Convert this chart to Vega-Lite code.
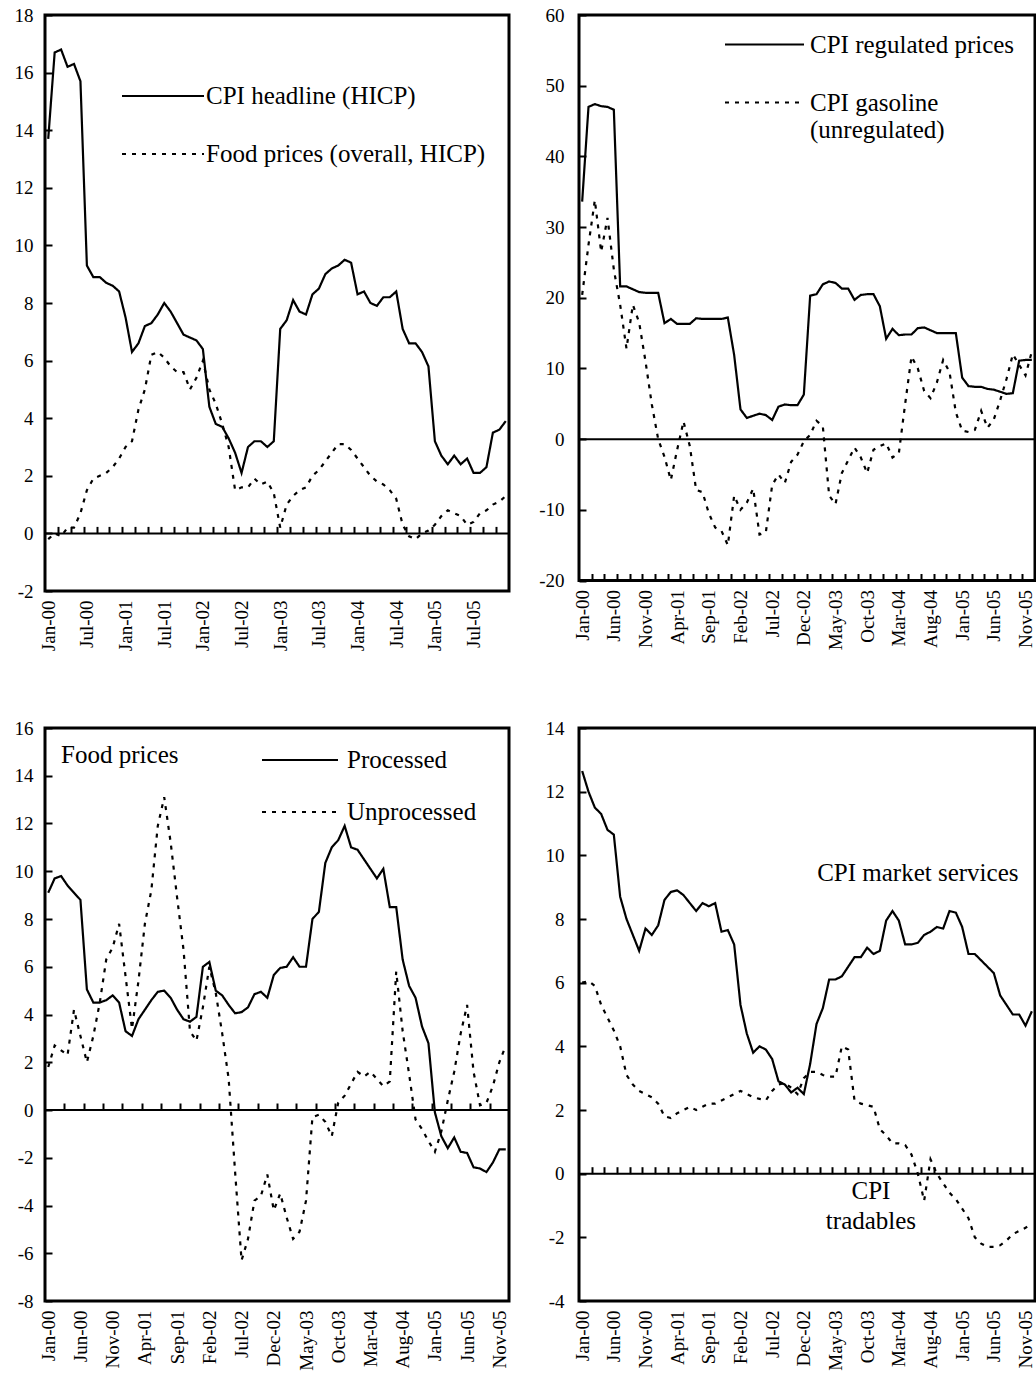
{
"$schema": "https://vega.github.io/schema/vega-lite/v6.json",
"background": "white",
"padding": {"left": 12, "top": 2, "right": 0, "bottom": 0},
"config": {
 "font": "Liberation Serif",
 "view": {"stroke": "black", "strokeWidth": 3},
 "axis": {"labelFont": "Liberation Serif", "labelFontSize": 19, "labelColor": "black", "tickColor": "black", "domain": false, "grid": false},
 "legend": {"labelFont": "Liberation Serif", "labelFontSize": 25, "labelColor": "black", "symbolType": "stroke", "symbolStrokeWidth": 2, "symbolStrokeColor": "black", "padding": 0, "labelLimit": 0},
 "text": {"font": "Liberation Serif", "fontSize": 25, "color": "black"}
},
"datasets": {
 "p1": [
{"m":0,"CPI headline (HICP)":13.7,"Food prices (overall, HICP)":-0.2},
{"m":1,"CPI headline (HICP)":16.7,"Food prices (overall, HICP)":0.0},
{"m":2,"CPI headline (HICP)":16.8,"Food prices (overall, HICP)":-0.1},
{"m":3,"CPI headline (HICP)":16.2,"Food prices (overall, HICP)":0.2},
{"m":4,"CPI headline (HICP)":16.3,"Food prices (overall, HICP)":0.2},
{"m":5,"CPI headline (HICP)":15.7,"Food prices (overall, HICP)":0.7},
{"m":6,"CPI headline (HICP)":9.3,"Food prices (overall, HICP)":1.5},
{"m":7,"CPI headline (HICP)":8.9,"Food prices (overall, HICP)":1.9},
{"m":8,"CPI headline (HICP)":8.9,"Food prices (overall, HICP)":2.0},
{"m":9,"CPI headline (HICP)":8.7,"Food prices (overall, HICP)":2.1},
{"m":10,"CPI headline (HICP)":8.6,"Food prices (overall, HICP)":2.3},
{"m":11,"CPI headline (HICP)":8.4,"Food prices (overall, HICP)":2.6},
{"m":12,"CPI headline (HICP)":7.5,"Food prices (overall, HICP)":3.0},
{"m":13,"CPI headline (HICP)":6.3,"Food prices (overall, HICP)":3.2},
{"m":14,"CPI headline (HICP)":6.6,"Food prices (overall, HICP)":4.3},
{"m":15,"CPI headline (HICP)":7.2,"Food prices (overall, HICP)":5.0},
{"m":16,"CPI headline (HICP)":7.3,"Food prices (overall, HICP)":6.2},
{"m":17,"CPI headline (HICP)":7.6,"Food prices (overall, HICP)":6.3},
{"m":18,"CPI headline (HICP)":8.0,"Food prices (overall, HICP)":6.1},
{"m":19,"CPI headline (HICP)":7.7,"Food prices (overall, HICP)":5.8},
{"m":20,"CPI headline (HICP)":7.3,"Food prices (overall, HICP)":5.6},
{"m":21,"CPI headline (HICP)":6.9,"Food prices (overall, HICP)":5.6},
{"m":22,"CPI headline (HICP)":6.8,"Food prices (overall, HICP)":5.0},
{"m":23,"CPI headline (HICP)":6.7,"Food prices (overall, HICP)":5.4},
{"m":24,"CPI headline (HICP)":6.4,"Food prices (overall, HICP)":6.0},
{"m":25,"CPI headline (HICP)":4.4,"Food prices (overall, HICP)":5.0},
{"m":26,"CPI headline (HICP)":3.8,"Food prices (overall, HICP)":4.5},
{"m":27,"CPI headline (HICP)":3.7,"Food prices (overall, HICP)":3.8},
{"m":28,"CPI headline (HICP)":3.3,"Food prices (overall, HICP)":3.0},
{"m":29,"CPI headline (HICP)":2.8,"Food prices (overall, HICP)":1.5},
{"m":30,"CPI headline (HICP)":2.1,"Food prices (overall, HICP)":1.6},
{"m":31,"CPI headline (HICP)":3.0,"Food prices (overall, HICP)":1.6},
{"m":32,"CPI headline (HICP)":3.2,"Food prices (overall, HICP)":1.9},
{"m":33,"CPI headline (HICP)":3.2,"Food prices (overall, HICP)":1.7},
{"m":34,"CPI headline (HICP)":3.0,"Food prices (overall, HICP)":1.8},
{"m":35,"CPI headline (HICP)":3.2,"Food prices (overall, HICP)":1.4},
{"m":36,"CPI headline (HICP)":7.1,"Food prices (overall, HICP)":0.2},
{"m":37,"CPI headline (HICP)":7.4,"Food prices (overall, HICP)":1.0},
{"m":38,"CPI headline (HICP)":8.1,"Food prices (overall, HICP)":1.3},
{"m":39,"CPI headline (HICP)":7.7,"Food prices (overall, HICP)":1.5},
{"m":40,"CPI headline (HICP)":7.6,"Food prices (overall, HICP)":1.6},
{"m":41,"CPI headline (HICP)":8.3,"Food prices (overall, HICP)":2.0},
{"m":42,"CPI headline (HICP)":8.5,"Food prices (overall, HICP)":2.2},
{"m":43,"CPI headline (HICP)":9.0,"Food prices (overall, HICP)":2.5},
{"m":44,"CPI headline (HICP)":9.2,"Food prices (overall, HICP)":2.8},
{"m":45,"CPI headline (HICP)":9.3,"Food prices (overall, HICP)":3.1},
{"m":46,"CPI headline (HICP)":9.5,"Food prices (overall, HICP)":3.1},
{"m":47,"CPI headline (HICP)":9.4,"Food prices (overall, HICP)":2.9},
{"m":48,"CPI headline (HICP)":8.3,"Food prices (overall, HICP)":2.6},
{"m":49,"CPI headline (HICP)":8.4,"Food prices (overall, HICP)":2.3},
{"m":50,"CPI headline (HICP)":8.0,"Food prices (overall, HICP)":2.0},
{"m":51,"CPI headline (HICP)":7.9,"Food prices (overall, HICP)":1.8},
{"m":52,"CPI headline (HICP)":8.2,"Food prices (overall, HICP)":1.7},
{"m":53,"CPI headline (HICP)":8.2,"Food prices (overall, HICP)":1.5},
{"m":54,"CPI headline (HICP)":8.4,"Food prices (overall, HICP)":1.2},
{"m":55,"CPI headline (HICP)":7.1,"Food prices (overall, HICP)":0.3},
{"m":56,"CPI headline (HICP)":6.6,"Food prices (overall, HICP)":-0.1},
{"m":57,"CPI headline (HICP)":6.6,"Food prices (overall, HICP)":-0.2},
{"m":58,"CPI headline (HICP)":6.3,"Food prices (overall, HICP)":0.0},
{"m":59,"CPI headline (HICP)":5.8,"Food prices (overall, HICP)":0.1},
{"m":60,"CPI headline (HICP)":3.2,"Food prices (overall, HICP)":0.3},
{"m":61,"CPI headline (HICP)":2.7,"Food prices (overall, HICP)":0.6},
{"m":62,"CPI headline (HICP)":2.4,"Food prices (overall, HICP)":0.8},
{"m":63,"CPI headline (HICP)":2.7,"Food prices (overall, HICP)":0.7},
{"m":64,"CPI headline (HICP)":2.4,"Food prices (overall, HICP)":0.6},
{"m":65,"CPI headline (HICP)":2.6,"Food prices (overall, HICP)":0.3},
{"m":66,"CPI headline (HICP)":2.1,"Food prices (overall, HICP)":0.4},
{"m":67,"CPI headline (HICP)":2.1,"Food prices (overall, HICP)":0.7},
{"m":68,"CPI headline (HICP)":2.3,"Food prices (overall, HICP)":0.8},
{"m":69,"CPI headline (HICP)":3.5,"Food prices (overall, HICP)":1.0},
{"m":70,"CPI headline (HICP)":3.6,"Food prices (overall, HICP)":1.1},
{"m":71,"CPI headline (HICP)":3.9,"Food prices (overall, HICP)":1.3}
 ],
 "p2": [
{"m":0,"CPI regulated prices":33.6,"CPI gasoline (unregulated)":20.4},
{"m":1,"CPI regulated prices":47.0,"CPI gasoline (unregulated)":27.5},
{"m":2,"CPI regulated prices":47.4,"CPI gasoline (unregulated)":33.8},
{"m":3,"CPI regulated prices":47.1,"CPI gasoline (unregulated)":26.5},
{"m":4,"CPI regulated prices":47.0,"CPI gasoline (unregulated)":31.3},
{"m":5,"CPI regulated prices":46.6,"CPI gasoline (unregulated)":24.0},
{"m":6,"CPI regulated prices":21.6,"CPI gasoline (unregulated)":19.0},
{"m":7,"CPI regulated prices":21.6,"CPI gasoline (unregulated)":12.8},
{"m":8,"CPI regulated prices":21.2,"CPI gasoline (unregulated)":19.0},
{"m":9,"CPI regulated prices":20.8,"CPI gasoline (unregulated)":16.5},
{"m":10,"CPI regulated prices":20.7,"CPI gasoline (unregulated)":11.0},
{"m":11,"CPI regulated prices":20.7,"CPI gasoline (unregulated)":4.9},
{"m":12,"CPI regulated prices":20.7,"CPI gasoline (unregulated)":0.0},
{"m":13,"CPI regulated prices":16.4,"CPI gasoline (unregulated)":-2.5},
{"m":14,"CPI regulated prices":17.0,"CPI gasoline (unregulated)":-5.8},
{"m":15,"CPI regulated prices":16.3,"CPI gasoline (unregulated)":-1.5},
{"m":16,"CPI regulated prices":16.3,"CPI gasoline (unregulated)":2.5},
{"m":17,"CPI regulated prices":16.3,"CPI gasoline (unregulated)":-1.0},
{"m":18,"CPI regulated prices":17.1,"CPI gasoline (unregulated)":-7.2},
{"m":19,"CPI regulated prices":17.0,"CPI gasoline (unregulated)":-7.5},
{"m":20,"CPI regulated prices":17.0,"CPI gasoline (unregulated)":-10.5},
{"m":21,"CPI regulated prices":17.0,"CPI gasoline (unregulated)":-12.5},
{"m":22,"CPI regulated prices":17.0,"CPI gasoline (unregulated)":-13.0},
{"m":23,"CPI regulated prices":17.2,"CPI gasoline (unregulated)":-15.0},
{"m":24,"CPI regulated prices":11.9,"CPI gasoline (unregulated)":-8.0},
{"m":25,"CPI regulated prices":4.2,"CPI gasoline (unregulated)":-10.0},
{"m":26,"CPI regulated prices":3.0,"CPI gasoline (unregulated)":-9.0},
{"m":27,"CPI regulated prices":3.3,"CPI gasoline (unregulated)":-7.0},
{"m":28,"CPI regulated prices":3.6,"CPI gasoline (unregulated)":-13.5},
{"m":29,"CPI regulated prices":3.4,"CPI gasoline (unregulated)":-13.2},
{"m":30,"CPI regulated prices":2.7,"CPI gasoline (unregulated)":-6.5},
{"m":31,"CPI regulated prices":4.6,"CPI gasoline (unregulated)":-5.0},
{"m":32,"CPI regulated prices":4.9,"CPI gasoline (unregulated)":-6.2},
{"m":33,"CPI regulated prices":4.8,"CPI gasoline (unregulated)":-3.2},
{"m":34,"CPI regulated prices":4.8,"CPI gasoline (unregulated)":-2.2},
{"m":35,"CPI regulated prices":6.3,"CPI gasoline (unregulated)":-0.3},
{"m":36,"CPI regulated prices":20.3,"CPI gasoline (unregulated)":0.6},
{"m":37,"CPI regulated prices":20.5,"CPI gasoline (unregulated)":2.6},
{"m":38,"CPI regulated prices":21.9,"CPI gasoline (unregulated)":1.8},
{"m":39,"CPI regulated prices":22.3,"CPI gasoline (unregulated)":-8.0},
{"m":40,"CPI regulated prices":22.1,"CPI gasoline (unregulated)":-9.2},
{"m":41,"CPI regulated prices":21.3,"CPI gasoline (unregulated)":-4.8},
{"m":42,"CPI regulated prices":21.3,"CPI gasoline (unregulated)":-3.0},
{"m":43,"CPI regulated prices":19.7,"CPI gasoline (unregulated)":-1.2},
{"m":44,"CPI regulated prices":20.4,"CPI gasoline (unregulated)":-2.6},
{"m":45,"CPI regulated prices":20.5,"CPI gasoline (unregulated)":-4.8},
{"m":46,"CPI regulated prices":20.5,"CPI gasoline (unregulated)":-1.5},
{"m":47,"CPI regulated prices":18.8,"CPI gasoline (unregulated)":-1.0},
{"m":48,"CPI regulated prices":14.2,"CPI gasoline (unregulated)":-0.6},
{"m":49,"CPI regulated prices":15.6,"CPI gasoline (unregulated)":-2.6},
{"m":50,"CPI regulated prices":14.7,"CPI gasoline (unregulated)":-2.0},
{"m":51,"CPI regulated prices":14.8,"CPI gasoline (unregulated)":5.0},
{"m":52,"CPI regulated prices":14.8,"CPI gasoline (unregulated)":11.7},
{"m":53,"CPI regulated prices":15.7,"CPI gasoline (unregulated)":10.0},
{"m":54,"CPI regulated prices":15.8,"CPI gasoline (unregulated)":6.8},
{"m":55,"CPI regulated prices":15.4,"CPI gasoline (unregulated)":5.8},
{"m":56,"CPI regulated prices":15.0,"CPI gasoline (unregulated)":8.0},
{"m":57,"CPI regulated prices":15.0,"CPI gasoline (unregulated)":11.2},
{"m":58,"CPI regulated prices":15.0,"CPI gasoline (unregulated)":9.5},
{"m":59,"CPI regulated prices":15.0,"CPI gasoline (unregulated)":3.8},
{"m":60,"CPI regulated prices":8.7,"CPI gasoline (unregulated)":1.2},
{"m":61,"CPI regulated prices":7.5,"CPI gasoline (unregulated)":1.0},
{"m":62,"CPI regulated prices":7.4,"CPI gasoline (unregulated)":1.3},
{"m":63,"CPI regulated prices":7.4,"CPI gasoline (unregulated)":4.0},
{"m":64,"CPI regulated prices":7.1,"CPI gasoline (unregulated)":1.6},
{"m":65,"CPI regulated prices":7.0,"CPI gasoline (unregulated)":2.8},
{"m":66,"CPI regulated prices":6.7,"CPI gasoline (unregulated)":5.5},
{"m":67,"CPI regulated prices":6.4,"CPI gasoline (unregulated)":8.5},
{"m":68,"CPI regulated prices":6.5,"CPI gasoline (unregulated)":12.0},
{"m":69,"CPI regulated prices":11.1,"CPI gasoline (unregulated)":10.5},
{"m":70,"CPI regulated prices":11.2,"CPI gasoline (unregulated)":9.0},
{"m":71,"CPI regulated prices":11.2,"CPI gasoline (unregulated)":12.4}
 ],
 "p3": [
{"m":0,"Processed":9.1,"Unprocessed":1.8},
{"m":1,"Processed":9.7,"Unprocessed":2.7},
{"m":2,"Processed":9.8,"Unprocessed":2.5},
{"m":3,"Processed":9.4,"Unprocessed":2.3},
{"m":4,"Processed":9.1,"Unprocessed":4.2},
{"m":5,"Processed":8.8,"Unprocessed":3.1},
{"m":6,"Processed":5.05,"Unprocessed":2.0},
{"m":7,"Processed":4.5,"Unprocessed":3.1},
{"m":8,"Processed":4.5,"Unprocessed":4.5},
{"m":9,"Processed":4.6,"Unprocessed":6.3},
{"m":10,"Processed":4.8,"Unprocessed":6.8},
{"m":11,"Processed":4.5,"Unprocessed":7.8},
{"m":12,"Processed":3.3,"Unprocessed":5.6},
{"m":13,"Processed":3.1,"Unprocessed":3.4},
{"m":14,"Processed":3.8,"Unprocessed":5.4},
{"m":15,"Processed":4.2,"Unprocessed":7.8},
{"m":16,"Processed":4.6,"Unprocessed":9.2},
{"m":17,"Processed":4.95,"Unprocessed":11.9},
{"m":18,"Processed":5.0,"Unprocessed":13.1},
{"m":19,"Processed":4.7,"Unprocessed":11.2},
{"m":20,"Processed":4.2,"Unprocessed":8.9},
{"m":21,"Processed":3.8,"Unprocessed":6.7},
{"m":22,"Processed":3.7,"Unprocessed":3.3},
{"m":23,"Processed":3.9,"Unprocessed":2.9},
{"m":24,"Processed":6.0,"Unprocessed":4.3},
{"m":25,"Processed":6.2,"Unprocessed":6.0},
{"m":26,"Processed":5.0,"Unprocessed":4.9},
{"m":27,"Processed":4.8,"Unprocessed":3.2},
{"m":28,"Processed":4.4,"Unprocessed":1.3},
{"m":29,"Processed":4.05,"Unprocessed":-2.6},
{"m":30,"Processed":4.1,"Unprocessed":-6.3},
{"m":31,"Processed":4.3,"Unprocessed":-5.4},
{"m":32,"Processed":4.85,"Unprocessed":-3.8},
{"m":33,"Processed":4.95,"Unprocessed":-3.6},
{"m":34,"Processed":4.7,"Unprocessed":-2.7},
{"m":35,"Processed":5.65,"Unprocessed":-4.2},
{"m":36,"Processed":5.95,"Unprocessed":-3.5},
{"m":37,"Processed":6.0,"Unprocessed":-4.5},
{"m":38,"Processed":6.4,"Unprocessed":-5.4},
{"m":39,"Processed":6.0,"Unprocessed":-5.1},
{"m":40,"Processed":6.0,"Unprocessed":-3.8},
{"m":41,"Processed":8.0,"Unprocessed":-0.3},
{"m":42,"Processed":8.3,"Unprocessed":-0.2},
{"m":43,"Processed":10.35,"Unprocessed":-0.5},
{"m":44,"Processed":11.0,"Unprocessed":-1.1},
{"m":45,"Processed":11.3,"Unprocessed":0.3},
{"m":46,"Processed":11.9,"Unprocessed":0.6},
{"m":47,"Processed":11.0,"Unprocessed":1.1},
{"m":48,"Processed":10.9,"Unprocessed":1.6},
{"m":49,"Processed":10.5,"Unprocessed":1.4},
{"m":50,"Processed":10.1,"Unprocessed":1.6},
{"m":51,"Processed":9.7,"Unprocessed":1.3},
{"m":52,"Processed":10.1,"Unprocessed":1.0},
{"m":53,"Processed":8.5,"Unprocessed":1.2},
{"m":54,"Processed":8.5,"Unprocessed":5.8},
{"m":55,"Processed":6.3,"Unprocessed":3.3},
{"m":56,"Processed":5.2,"Unprocessed":1.5},
{"m":57,"Processed":4.7,"Unprocessed":-0.4},
{"m":58,"Processed":3.5,"Unprocessed":-0.8},
{"m":59,"Processed":2.8,"Unprocessed":-1.3},
{"m":60,"Processed":-0.1,"Unprocessed":-1.75},
{"m":61,"Processed":-1.1,"Unprocessed":-0.9},
{"m":62,"Processed":-1.6,"Unprocessed":0.4},
{"m":63,"Processed":-1.15,"Unprocessed":1.6},
{"m":64,"Processed":-1.75,"Unprocessed":3.2},
{"m":65,"Processed":-1.8,"Unprocessed":4.4},
{"m":66,"Processed":-2.4,"Unprocessed":1.6},
{"m":67,"Processed":-2.45,"Unprocessed":0.2},
{"m":68,"Processed":-2.6,"Unprocessed":0.3},
{"m":69,"Processed":-2.2,"Unprocessed":1.0},
{"m":70,"Processed":-1.65,"Unprocessed":2.0},
{"m":71,"Processed":-1.65,"Unprocessed":2.7}
 ],
 "p4": [
{"m":0,"CPI market services":12.65,"CPI tradables":6.0},
{"m":1,"CPI market services":12.0,"CPI tradables":6.05},
{"m":2,"CPI market services":11.5,"CPI tradables":5.9},
{"m":3,"CPI market services":11.3,"CPI tradables":5.3},
{"m":4,"CPI market services":10.8,"CPI tradables":4.9},
{"m":5,"CPI market services":10.65,"CPI tradables":4.5},
{"m":6,"CPI market services":8.7,"CPI tradables":4.0},
{"m":7,"CPI market services":8.0,"CPI tradables":3.1},
{"m":8,"CPI market services":7.5,"CPI tradables":2.8},
{"m":9,"CPI market services":7.0,"CPI tradables":2.6},
{"m":10,"CPI market services":7.7,"CPI tradables":2.5},
{"m":11,"CPI market services":7.5,"CPI tradables":2.4},
{"m":12,"CPI market services":7.8,"CPI tradables":2.2},
{"m":13,"CPI market services":8.6,"CPI tradables":1.8},
{"m":14,"CPI market services":8.85,"CPI tradables":1.75},
{"m":15,"CPI market services":8.9,"CPI tradables":1.9},
{"m":16,"CPI market services":8.75,"CPI tradables":2.0},
{"m":17,"CPI market services":8.5,"CPI tradables":2.1},
{"m":18,"CPI market services":8.25,"CPI tradables":2.0},
{"m":19,"CPI market services":8.5,"CPI tradables":2.1},
{"m":20,"CPI market services":8.4,"CPI tradables":2.2},
{"m":21,"CPI market services":8.5,"CPI tradables":2.2},
{"m":22,"CPI market services":7.6,"CPI tradables":2.3},
{"m":23,"CPI market services":7.65,"CPI tradables":2.4},
{"m":24,"CPI market services":7.2,"CPI tradables":2.5},
{"m":25,"CPI market services":5.3,"CPI tradables":2.6},
{"m":26,"CPI market services":4.4,"CPI tradables":2.5},
{"m":27,"CPI market services":3.8,"CPI tradables":2.4},
{"m":28,"CPI market services":4.0,"CPI tradables":2.35},
{"m":29,"CPI market services":3.9,"CPI tradables":2.3},
{"m":30,"CPI market services":3.6,"CPI tradables":2.6},
{"m":31,"CPI market services":2.9,"CPI tradables":2.8},
{"m":32,"CPI market services":2.8,"CPI tradables":2.85},
{"m":33,"CPI market services":2.55,"CPI tradables":2.7},
{"m":34,"CPI market services":2.7,"CPI tradables":2.5},
{"m":35,"CPI market services":2.5,"CPI tradables":3.0},
{"m":36,"CPI market services":3.45,"CPI tradables":3.2},
{"m":37,"CPI market services":4.7,"CPI tradables":3.2},
{"m":38,"CPI market services":5.2,"CPI tradables":3.1},
{"m":39,"CPI market services":6.1,"CPI tradables":3.05},
{"m":40,"CPI market services":6.1,"CPI tradables":3.05},
{"m":41,"CPI market services":6.2,"CPI tradables":4.0},
{"m":42,"CPI market services":6.5,"CPI tradables":3.9},
{"m":43,"CPI market services":6.8,"CPI tradables":2.3},
{"m":44,"CPI market services":6.8,"CPI tradables":2.2},
{"m":45,"CPI market services":7.1,"CPI tradables":2.15},
{"m":46,"CPI market services":6.9,"CPI tradables":2.1},
{"m":47,"CPI market services":7.0,"CPI tradables":1.4},
{"m":48,"CPI market services":7.95,"CPI tradables":1.2},
{"m":49,"CPI market services":8.25,"CPI tradables":0.95},
{"m":50,"CPI market services":7.95,"CPI tradables":0.95},
{"m":51,"CPI market services":7.2,"CPI tradables":0.9},
{"m":52,"CPI market services":7.2,"CPI tradables":0.6},
{"m":53,"CPI market services":7.25,"CPI tradables":0.0},
{"m":54,"CPI market services":7.5,"CPI tradables":-0.85},
{"m":55,"CPI market services":7.6,"CPI tradables":0.45},
{"m":56,"CPI market services":7.75,"CPI tradables":0.0},
{"m":57,"CPI market services":7.7,"CPI tradables":-0.3},
{"m":58,"CPI market services":8.25,"CPI tradables":-0.6},
{"m":59,"CPI market services":8.2,"CPI tradables":-0.8},
{"m":60,"CPI market services":7.75,"CPI tradables":-1.1},
{"m":61,"CPI market services":6.9,"CPI tradables":-1.4},
{"m":62,"CPI market services":6.9,"CPI tradables":-2.0},
{"m":63,"CPI market services":6.7,"CPI tradables":-2.2},
{"m":64,"CPI market services":6.5,"CPI tradables":-2.3},
{"m":65,"CPI market services":6.3,"CPI tradables":-2.3},
{"m":66,"CPI market services":5.6,"CPI tradables":-2.25},
{"m":67,"CPI market services":5.3,"CPI tradables":-2.1},
{"m":68,"CPI market services":5.0,"CPI tradables":-1.9},
{"m":69,"CPI market services":5.0,"CPI tradables":-1.8},
{"m":70,"CPI market services":4.65,"CPI tradables":-1.7},
{"m":71,"CPI market services":5.1,"CPI tradables":-1.55}
 ]
},
"spacing": 64,
"resolve": {"scale": {"strokeDash": "independent"}, "legend": {"strokeDash": "independent"}},
"vconcat": [
 {
  "spacing": 25,
  "resolve": {"scale": {"strokeDash": "independent"}, "legend": {"strokeDash": "independent"}},
  "hconcat": [
   {
    "width": 464, "height": 576,
    "resolve": {"axis": {"x": "independent"}},
    "layer": [
     {
      "data": {"values": [{}]},
      "mark": {"type": "rule", "color": "black", "strokeWidth": 2},
      "encoding": {
       "x": {"datum": -0.5, "type": "quantitative", "axis": {"orient": "top", "offset": -518.4, "values": [1.5,3.5,5.5,7.5,9.5,11.5,13.5,15.5,17.5,19.5,21.5,23.5,25.5,27.5,29.5,31.5,33.5,35.5,37.5,39.5,41.5,43.5,45.5,47.5,49.5,51.5,53.5,55.5,57.5,59.5,61.5,63.5,65.5,67.5,69.5], "labels": false, "ticks": true, "tickSize": 7, "tickWidth": 2, "domain": false, "title": null}},
       "x2": {"datum": 71.5},
       "y": {"datum": 0, "type": "quantitative"}
      }
     },
     {
      "data": {"name": "p1"},
      "transform": [{"fold": ["CPI headline (HICP)", "Food prices (overall, HICP)"], "as": ["series", "value"]}],
      "mark": {"type": "line", "color": "black", "strokeWidth": 2.2},
      "encoding": {
       "x": {"field": "m", "type": "quantitative", "scale": {"domain": [-0.5, 71.5], "nice": false, "zero": false}, "axis": {"orient": "bottom", "values": [0,6,12,18,24,30,36,42,48,54,60,66], "labelExpr": "['Jan','Feb','Mar','Apr','May','Jun','Jul','Aug','Sep','Oct','Nov','Dec'][datum.value % 12] + '-0' + floor(datum.value / 12)", "labelAngle": 270, "ticks": false, "labelPadding": 9, "title": null}},
       "y": {"field": "value", "type": "quantitative", "scale": {"domain": [-2, 18], "nice": false, "zero": false}, "axis": {"values": [-2,0,2,4,6,8,10,12,14,16,18], "labelExpr": "'' + datum.value", "tickSize": -7, "tickWidth": 2, "labelPadding": 19, "title": null}},
       "strokeDash": {"field": "series", "type": "nominal", "scale": {"domain": ["CPI headline (HICP)", "Food prices (overall, HICP)"], "range": [[1,0],[4,6]]}, "legend": {"title": null, "orient": "none", "legendX": 76, "legendY": 39, "rowPadding": 3, "symbolSize": 6724, "labelOffset": 1}}
      }
     }
    ]
   },
   {
    "width": 456, "height": 565.5,
    "resolve": {"axis": {"x": "independent"}},
    "layer": [
     {
      "data": {"values": [{}]},
      "mark": {"type": "rule", "color": "black", "strokeWidth": 2},
      "encoding": {
       "x": {"datum": -0.5, "type": "quantitative", "axis": {"orient": "top", "offset": -565.5, "values": [1.5,3.5,5.5,7.5,9.5,11.5,13.5,15.5,17.5,19.5,21.5,23.5,25.5,27.5,29.5,31.5,33.5,35.5,37.5,39.5,41.5,43.5,45.5,47.5,49.5,51.5,53.5,55.5,57.5,59.5,61.5,63.5,65.5,67.5,69.5], "labels": false, "ticks": true, "tickSize": 7, "tickWidth": 2, "domain": false, "title": null}},
       "x2": {"datum": 71.5},
       "y": {"datum": 0, "type": "quantitative"}
      }
     },
     {
      "data": {"name": "p2"},
      "transform": [{"fold": ["CPI regulated prices", "CPI gasoline (unregulated)"], "as": ["series", "value"]}],
      "mark": {"type": "line", "color": "black", "strokeWidth": 2.2},
      "encoding": {
       "x": {"field": "m", "type": "quantitative", "scale": {"domain": [-0.5, 71.5], "nice": false, "zero": false}, "axis": {"orient": "bottom", "values": [0,5,10,15,20,25,30,35,40,45,50,55,60,65,70], "labelExpr": "['Jan','Feb','Mar','Apr','May','Jun','Jul','Aug','Sep','Oct','Nov','Dec'][datum.value % 12] + '-0' + floor(datum.value / 12)", "labelAngle": 270, "ticks": false, "labelPadding": 9, "title": null}},
       "y": {"field": "value", "type": "quantitative", "scale": {"domain": [-20, 60], "nice": false, "zero": false}, "axis": {"values": [-20,-10,0,10,20,30,40,50,60], "labelExpr": "'' + datum.value", "tickSize": -7, "tickWidth": 2, "labelPadding": 22, "title": null}},
       "strokeDash": {"field": "series", "type": "nominal", "scale": {"domain": ["CPI regulated prices", "CPI gasoline (unregulated)"], "range": [[1,0],[4,6]]}, "legend": {"title": null, "orient": "none", "legendX": 145, "legendY": -11, "rowPadding": 4, "symbolSize": 6241, "labelOffset": 5, "labelExpr": "datum.label == 'CPI gasoline (unregulated)' ? ['CPI gasoline', '(unregulated)'] : datum.label"}}
      }
     }
    ]
   }
  ]
 },
 {
  "spacing": 31,
  "resolve": {"scale": {"strokeDash": "independent"}, "legend": {"strokeDash": "independent"}},
  "hconcat": [
   {
    "width": 464, "height": 573,
    "resolve": {"axis": {"x": "independent"}},
    "layer": [
     {
      "data": {"values": [{}]},
      "mark": {"type": "rule", "color": "black", "strokeWidth": 2},
      "encoding": {
       "x": {"datum": -0.5, "type": "quantitative", "axis": {"orient": "top", "offset": -382, "values": [2.5,5.5,8.5,11.5,14.5,17.5,20.5,23.5,26.5,29.5,32.5,35.5,38.5,41.5,44.5,47.5,50.5,53.5,56.5,59.5,62.5,65.5,68.5], "labels": false, "ticks": true, "tickSize": 7, "tickWidth": 2, "domain": false, "title": null}},
       "x2": {"datum": 71.5},
       "y": {"datum": 0, "type": "quantitative"}
      }
     },
     {
      "data": {"name": "p3"},
      "transform": [{"fold": ["Processed", "Unprocessed"], "as": ["series", "value"]}],
      "mark": {"type": "line", "color": "black", "strokeWidth": 2.2},
      "encoding": {
       "x": {"field": "m", "type": "quantitative", "scale": {"domain": [-0.5, 71.5], "nice": false, "zero": false}, "axis": {"orient": "bottom", "values": [0,5,10,15,20,25,30,35,40,45,50,55,60,65,70], "labelExpr": "['Jan','Feb','Mar','Apr','May','Jun','Jul','Aug','Sep','Oct','Nov','Dec'][datum.value % 12] + '-0' + floor(datum.value / 12)", "labelAngle": 270, "ticks": false, "labelPadding": 9, "title": null}},
       "y": {"field": "value", "type": "quantitative", "scale": {"domain": [-8, 16], "nice": false, "zero": false}, "axis": {"values": [-8,-6,-4,-2,0,2,4,6,8,10,12,14,16], "labelExpr": "'' + datum.value", "tickSize": -7, "tickWidth": 2, "labelPadding": 19, "title": null}},
       "strokeDash": {"field": "series", "type": "nominal", "scale": {"domain": ["Processed", "Unprocessed"], "range": [[1,0],[4,6]]}, "legend": {"title": null, "orient": "none", "legendX": 216, "legendY": -7, "rowPadding": -7, "symbolSize": 5776, "labelOffset": 8}}
      }
     },
     {
      "data": {"values": [{}]},
      "mark": {"type": "text", "text": "Food prices", "align": "left", "baseline": "middle"},
      "encoding": {"x": {"datum": 2.0, "type": "quantitative", "axis": null}, "y": {"datum": 14.87, "type": "quantitative"}}
     }
    ]
   },
   {
    "width": 456, "height": 573,
    "resolve": {"axis": {"x": "independent"}},
    "layer": [
     {
      "data": {"values": [{}]},
      "mark": {"type": "rule", "color": "black", "strokeWidth": 2},
      "encoding": {
       "x": {"datum": -0.5, "type": "quantitative", "axis": {"orient": "top", "offset": -445.7, "values": [1.5,3.5,5.5,7.5,9.5,11.5,13.5,15.5,17.5,19.5,21.5,23.5,25.5,27.5,29.5,31.5,33.5,35.5,37.5,39.5,41.5,43.5,45.5,47.5,49.5,51.5,53.5,55.5,57.5,59.5,61.5,63.5,65.5,67.5,69.5], "labels": false, "ticks": true, "tickSize": 7, "tickWidth": 2, "domain": false, "title": null}},
       "x2": {"datum": 71.5},
       "y": {"datum": 0, "type": "quantitative"}
      }
     },
     {
      "data": {"name": "p4"},
      "transform": [{"fold": ["CPI market services", "CPI tradables"], "as": ["series", "value"]}],
      "mark": {"type": "line", "color": "black", "strokeWidth": 2.2},
      "encoding": {
       "x": {"field": "m", "type": "quantitative", "scale": {"domain": [-0.5, 71.5], "nice": false, "zero": false}, "axis": {"orient": "bottom", "values": [0,5,10,15,20,25,30,35,40,45,50,55,60,65,70], "labelExpr": "['Jan','Feb','Mar','Apr','May','Jun','Jul','Aug','Sep','Oct','Nov','Dec'][datum.value % 12] + '-0' + floor(datum.value / 12)", "labelAngle": 270, "ticks": false, "labelPadding": 9, "title": null}},
       "y": {"field": "value", "type": "quantitative", "scale": {"domain": [-4, 14], "nice": false, "zero": false}, "axis": {"values": [-4,-2,0,2,4,6,8,10,12,14], "labelExpr": "'' + datum.value", "tickSize": -7, "tickWidth": 2, "labelPadding": 22, "title": null}},
       "strokeDash": {"field": "series", "type": "nominal", "scale": {"domain": ["CPI market services", "CPI tradables"], "range": [[1,0],[4,6]]}, "legend": null}
      }
     },
     {
      "data": {"values": [{}]},
      "mark": {"type": "text", "text": "CPI market services", "align": "center", "baseline": "middle"},
      "encoding": {"x": {"datum": 53, "type": "quantitative", "axis": null}, "y": {"datum": 9.45, "type": "quantitative"}}
     },
     {
      "data": {"values": [{}]},
      "mark": {"type": "text", "text": ["CPI", "tradables"], "align": "center", "baseline": "middle", "lineHeight": 30},
      "encoding": {"x": {"datum": 45.6, "type": "quantitative", "axis": null}, "y": {"datum": -0.55, "type": "quantitative"}}
     }
    ]
   }
  ]
 }
]
}
